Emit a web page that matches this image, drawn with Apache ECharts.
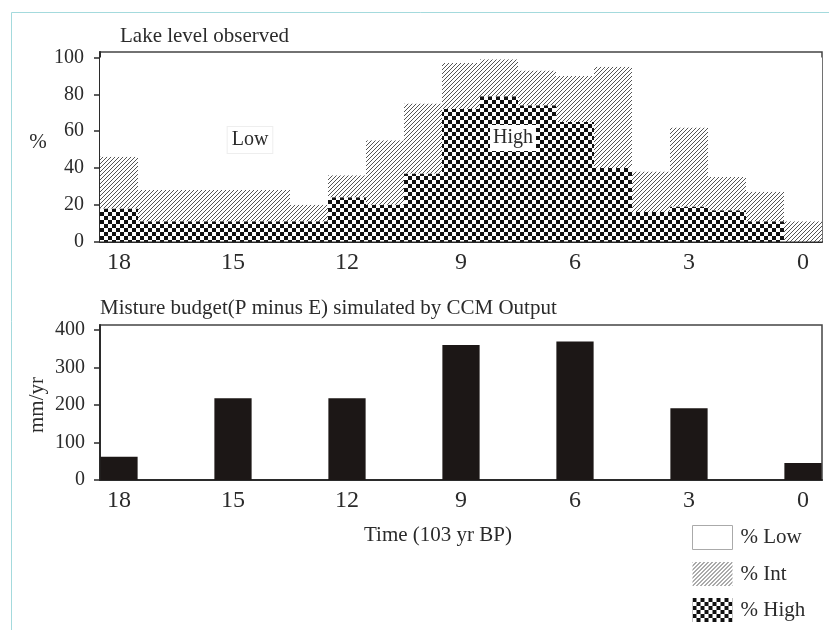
<!DOCTYPE html>
<html>
<head>
<meta charset="utf-8">
<script src="https://cdn.jsdelivr.net/npm/echarts@6/dist/echarts.min.js"></script>
<style>
html, body { margin: 0; padding: 0; background: #fff; }
#chart { width: 829px; height: 630px; }
</style>
</head>
<body>
<div id="chart"></div>
<script>
// Age bins (10^3 yr BP), oldest on the left
const ages = ['18','17','16','15','14','13','12','11','10','9','8','7','6','5','4','3','2','1','0'];
// Lake status percentages per 1-kyr bin
const highPct = [18, 11, 11, 11, 11, 11, 24, 20, 37, 72, 79, 74, 65, 40, 16, 19, 17, 11, 0];
const intPct  = [28, 17, 17, 17, 17,  9, 12, 35, 38, 25, 20, 19, 25, 55, 22, 43, 18, 16, 11];
const lowPct  = [54, 72, 72, 72, 72, 80, 64, 45, 25,  3,  1,  7, 10,  5, 62, 38, 65, 73, 89];
// Simulated moisture budget (P - E), mm/yr
const pmeAges = ['18','15','12','9','6','3','0'];
const pmeValues = [62, 218, 218, 360, 369, 191, 45];
// Tick labels
const pctTicks = [0, 20, 40, 60, 80, 100];
const pmeTicks = [0, 100, 200, 300, 400];

const FONT = 'Liberation Serif';
const INK = '#2b2b2b';

function checkerTile() {
  const c = document.createElement('canvas');
  c.width = 8; c.height = 8;
  const g = c.getContext('2d');
  g.fillStyle = '#fff'; g.fillRect(0, 0, 8, 8);
  g.fillStyle = '#111';
  g.fillRect(0, 0, 4, 4); g.fillRect(4, 4, 4, 4);
  return c;
}
function hatchTile() {
  const c = document.createElement('canvas');
  c.width = 4; c.height = 4;
  const g = c.getContext('2d');
  g.fillStyle = '#fff'; g.fillRect(0, 0, 4, 4);
  g.strokeStyle = '#555'; g.lineWidth = 1;
  g.beginPath();
  g.moveTo(0, 4); g.lineTo(4, 0);
  g.moveTo(-1, 1); g.lineTo(1, -1);
  g.moveTo(3, 5); g.lineTo(5, 3);
  g.stroke();
  return c;
}
const checker = { image: checkerTile(), repeat: 'repeat' };
const hatch = { image: hatchTile(), repeat: 'repeat' };

const pmeSeriesData = ages.map(a => {
  const i = pmeAges.indexOf(a);
  return i < 0 ? null : pmeValues[i];
});

const axisLineStyle = { color: INK, width: 2 };
const xAxisCommon = {
  type: 'category',
  data: ages,
  boundaryGap: true,
  axisLine: { lineStyle: axisLineStyle },
  axisTick: { interval: 2, alignWithLabel: true, length: 6, lineStyle: { color: INK, width: 1.5 } },
  axisLabel: { interval: 2, fontFamily: FONT, fontSize: 24, color: INK, margin: 9 },
  splitLine: { show: false }
};

const chart = echarts.init(document.getElementById('chart'), null, { renderer: 'canvas' });
chart.setOption({
  animation: false,
  backgroundColor: '#fff',
  grid: [
    { left: 100, top: 52, width: 722, height: 189.5, show: true, borderColor: '#444', borderWidth: 1.5, backgroundColor: 'transparent' },
    { left: 100, top: 325, width: 722, height: 155, show: true, borderColor: '#444', borderWidth: 1.5, backgroundColor: 'transparent' }
  ],
  xAxis: [
    Object.assign({ gridIndex: 0 }, xAxisCommon),
    Object.assign({ gridIndex: 1 }, xAxisCommon)
  ],
  yAxis: [
    {
      gridIndex: 0, type: 'value', min: 0, max: 103,
      axisLine: { show: true, lineStyle: axisLineStyle },
      axisTick: { show: true, length: 6, customValues: pctTicks, lineStyle: { color: INK, width: 1.5 } },
      axisLabel: { customValues: pctTicks, fontFamily: FONT, fontSize: 20, color: INK, margin: 16 },
      splitLine: { show: false }
    },
    {
      gridIndex: 1, type: 'value', min: 0, max: 413,
      axisLine: { show: true, lineStyle: axisLineStyle },
      axisTick: { show: true, length: 6, customValues: pmeTicks, lineStyle: { color: INK, width: 1.5 } },
      axisLabel: { customValues: pmeTicks, fontFamily: FONT, fontSize: 20, color: INK, margin: 15 },
      splitLine: { show: false }
    }
  ],
  legend: {
    orient: 'vertical',
    left: 692, top: 525,
    width: 137, height: 105,
    padding: 0,
    itemWidth: 40, itemHeight: 24, itemGap: 12,
    selectedMode: false,
    icon: 'rect',
    textStyle: { fontFamily: FONT, fontSize: 21, color: INK, padding: [0, 0, 0, 3] },
    data: [
      { name: '% Low', itemStyle: { borderColor: '#aaa', borderWidth: 1 } },
      { name: '% Int' },
      { name: '% High' }
    ]
  },
  series: [
    { name: '% High', type: 'bar', stack: 'lake', xAxisIndex: 0, yAxisIndex: 0, data: highPct,
      barCategoryGap: '0%', itemStyle: { color: checker } },
    { name: '% Int', type: 'bar', stack: 'lake', xAxisIndex: 0, yAxisIndex: 0, data: intPct,
      itemStyle: { color: hatch } },
    { name: '% Low', type: 'bar', stack: 'lake', xAxisIndex: 0, yAxisIndex: 0, data: lowPct,
      itemStyle: { color: '#fff' } },
    { name: 'P minus E', type: 'bar', xAxisIndex: 1, yAxisIndex: 1, data: pmeSeriesData,
      barCategoryGap: '2%', itemStyle: { color: '#1c1716' } }
  ],
  graphic: [
    { type: 'rect', silent: true, z: -10, shape: { x: 11.5, y: 12.5, width: 1000, height: 1000 },
      style: { fill: 'none', stroke: '#a4dadd', lineWidth: 1 } },
    { type: 'text', x: 120, y: 36, style: { text: 'Lake level observed', font: '21px "Liberation Serif"', fill: INK, verticalAlign: 'middle' } },
    { type: 'text', x: 38, y: 142, style: { text: '%', font: '21px "Liberation Serif"', fill: INK, align: 'center', verticalAlign: 'middle' } },
    { type: 'text', x: 250, y: 140, z: 100,
      style: { text: 'Low', font: '20px "Liberation Serif"', fill: INK, align: 'center', verticalAlign: 'middle',
        backgroundColor: '#fff', borderColor: '#eee', borderWidth: 1, padding: [3, 4, 3, 4] } },
    { type: 'text', x: 513, y: 138, z: 100,
      style: { text: 'High', font: '20px "Liberation Serif"', fill: INK, align: 'center', verticalAlign: 'middle',
        backgroundColor: '#fff', padding: [3, 3, 3, 3] } },
    { type: 'text', x: 100, y: 308, style: { text: 'Misture budget(P minus E) simulated by CCM Output', font: '21px "Liberation Serif"', fill: INK, verticalAlign: 'middle' } },
    { type: 'text', x: 37, y: 405, rotation: Math.PI / 2,
      style: { text: 'mm/yr', font: '21px "Liberation Serif"', fill: INK, align: 'center', verticalAlign: 'middle' } },
    { type: 'text', x: 438, y: 535, style: { text: 'Time (103 yr BP)', font: '21px "Liberation Serif"', fill: INK, align: 'center', verticalAlign: 'middle' } }
  ]
});
</script>
</body>
</html>
